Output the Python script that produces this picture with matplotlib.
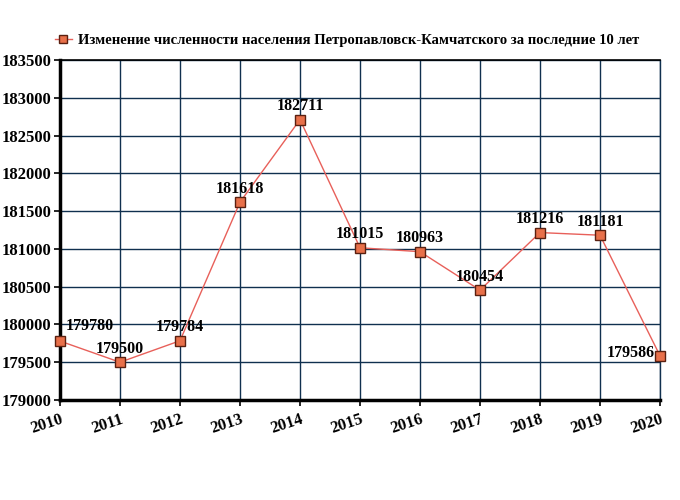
import matplotlib
matplotlib.use("Agg")
import matplotlib.pyplot as plt

years = [2010, 2011, 2012, 2013, 2014, 2015, 2016, 2017, 2018, 2019, 2020]
population = [179780, 179500, 179784, 181618, 182711, 181015, 180963, 180454, 181216, 181181, 179586]
yticks = [179000, 179500, 180000, 180500, 181000, 181500, 182000, 182500, 183000, 183500]
title = "Изменение численности населения Петропавловск-Камчатского за последние 10 лет"

plt.rcParams['font.family'] = ['Liberation Serif', 'DejaVu Serif']

fig = plt.figure(figsize=(6.8, 5.0), dpi=100)
ax = fig.add_axes([60/680, 1-400/500, 600/680, 340/500])

grid_c = '#10304f'
line, = ax.plot(years, population, color='#e8605a', lw=1.0, marker='s', ms=6.5,
                mfc='#e8704a', mec='#5a2010', mew=1.0, label=title, zorder=3, clip_on=False)

ax.set_xlim(2010, 2020)
ax.set_ylim(179000, 183500)
ax.set_xticks(years)
ax.set_yticks(yticks)
ax.set_xticklabels([str(y) for y in years], rotation=18, fontsize=12, fontweight='bold',
                   ha='right', rotation_mode='anchor')
ax.set_yticklabels([str(v) for v in yticks], fontsize=12, fontweight='bold')
ax.grid(True, color=grid_c, lw=1.0)
ax.set_axisbelow(True)
ax.spines['top'].set_color('black')
ax.spines['top'].set_linewidth(1.2)
ax.spines['right'].set_color(grid_c)
ax.spines['right'].set_linewidth(1.0)
for s in ['left', 'bottom']:
    ax.spines[s].set_color('black')
    ax.spines[s].set_linewidth(2.5)
ax.tick_params(axis='y', length=4, width=1.2, pad=2)
ax.tick_params(axis='x', length=4, width=1.2, pad=4)

for i, (x, y) in enumerate(zip(years, population)):
    if i == 0:
        ax.annotate(str(y), (x, y), xytext=(4, 5), textcoords='offset points',
                    ha='left', va='bottom', fontsize=11.5, fontweight='bold')
    elif i == len(years) - 1:
        ax.annotate(str(y), (x, y), xytext=(-4, 2), textcoords='offset points',
                    ha='right', va='center', fontsize=11.5, fontweight='bold')
    else:
        ax.annotate(str(y), (x, y), xytext=(0, 4), textcoords='offset points',
                    ha='center', va='bottom', fontsize=11.5, fontweight='bold')

fig.legend(handles=[line], labels=[title], loc='center', bbox_to_anchor=(0.51, 1-40/500),
           frameon=False, handlelength=1.2, handletextpad=0.4, markerscale=0.8,
           prop={'weight': 'bold', 'size': 10.5})

fig.savefig('out.png', dpi=100)
